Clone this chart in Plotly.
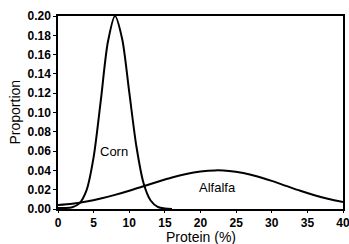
import plotly.graph_objects as go

# Corn protein distribution
corn_x = [0, 1, 2, 3, 4, 5, 6, 7, 8, 9, 10, 11, 12, 13, 14, 15, 16]
corn_y = [0.001, 0.001, 0.0018, 0.0058, 0.0193, 0.0537, 0.112, 0.173, 0.200,
          0.1765, 0.121, 0.065, 0.027, 0.0088, 0.0022, 0.0004, 0.0]

# Alfalfa protein distribution
alf_x = [0, 2, 4, 6, 8, 10, 12, 14, 16, 18, 20, 22, 24, 26, 28, 30, 32, 34, 36, 38, 40]
alf_y = [0.0042, 0.0055, 0.0077, 0.0108, 0.0146, 0.0189, 0.0236, 0.0283, 0.0327,
         0.0363, 0.0388, 0.0400, 0.0395, 0.0373, 0.0337, 0.0291, 0.0240, 0.0189,
         0.0143, 0.0103, 0.0072]

labels = ["Corn", "Alfalfa"]
label_x = [7.9, 22.4]
label_y = [0.0595, 0.0225]

x_ticks = [0, 5, 10, 15, 20, 25, 30, 35, 40]
y_ticks = [0.00, 0.02, 0.04, 0.06, 0.08, 0.10, 0.12, 0.14, 0.16, 0.18, 0.20]

FONT = "Liberation Sans"

fig = go.Figure()
fig.add_trace(go.Scatter(x=corn_x, y=corn_y, mode="lines",
                         line=dict(color="black", width=2, shape="spline", smoothing=0.8),
                         showlegend=False, hoverinfo="skip"))
fig.add_trace(go.Scatter(x=alf_x, y=alf_y, mode="lines",
                         line=dict(color="black", width=2, shape="spline", smoothing=0.8),
                         showlegend=False, hoverinfo="skip"))

for t, xx, yy in zip(labels, label_x, label_y):
    fig.add_annotation(x=xx, y=yy, text=t, showarrow=False,
                       font=dict(family=FONT, size=13, color="black"))

# axis titles as annotations
fig.add_annotation(xref="paper", yref="paper", x=0.5, y=0, yanchor="middle",
                   yshift=-28, text="Protein (%)", showarrow=False,
                   font=dict(family=FONT, size=14, color="black"))
fig.add_annotation(xref="paper", yref="paper", x=0, y=0.5, xanchor="center",
                   xshift=-44, textangle=-90, text="Proportion", showarrow=False,
                   font=dict(family=FONT, size=14, color="black"))

fig.update_layout(
    width=349, height=244,
    margin=dict(l=58, r=6, t=16, b=35),
    paper_bgcolor="white", plot_bgcolor="white",
    font=dict(family=FONT, color="black"),
)
fig.update_xaxes(range=[0, 40], tickvals=x_ticks, ticktext=[str(v) for v in x_ticks],
                 automargin=False, ticklabeloverflow="allow",
                 showgrid=False, zeroline=False, showline=True, linecolor="black",
                 linewidth=1.5, mirror=True, ticks="outside", ticklen=2,
                 tickcolor="black", tickfont=dict(family=FONT, size=12, weight="bold"))
fig.update_yaxes(range=[0, 0.2], tickvals=y_ticks,
                 ticktext=[f"{v:.2f}" for v in y_ticks],
                 automargin=False, ticklabeloverflow="allow",
                 showgrid=False, zeroline=False, showline=True, linecolor="black",
                 linewidth=1.5, mirror=True, ticks="outside", ticklen=3,
                 tickcolor="black", tickfont=dict(family=FONT, size=12, weight="bold"))

fig.write_html(
    "out.html",
    config={"displayModeBar": False},
    post_script="document.body.style.margin='0';document.body.style.overflow='hidden';",
)
